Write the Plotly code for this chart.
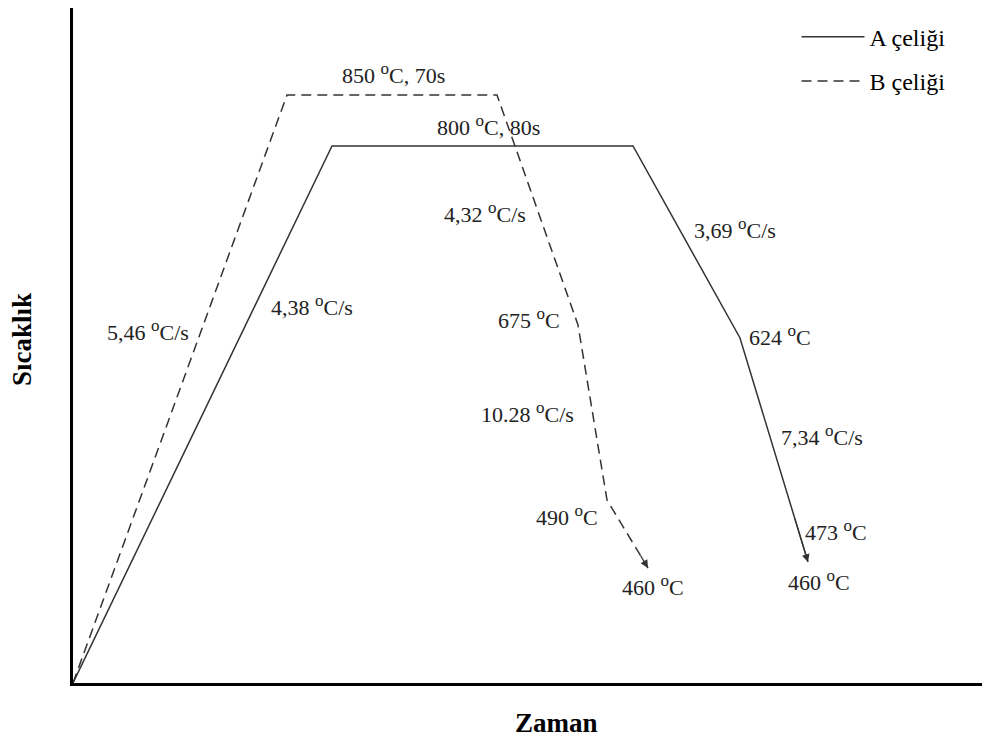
import plotly.graph_objects as go

# Schematic heat-treatment cycles (time vs temperature, schematic units)
A_time = [0, 259, 560, 667, 735]
A_temp = [0, 537, 537, 345, 121]
B_time = [0, 214, 424, 505, 534, 575]
B_temp = [0, 588, 588, 358, 183, 115]

DEG = '<sup><span style="font-size:17px">o</span></sup>'
label_texts = [
    f"850 {DEG}C, 70s", f"800 {DEG}C, 80s", f"4,32 {DEG}C/s",
    f"3,69 {DEG}C/s", f"5,46 {DEG}C/s", f"4,38 {DEG}C/s",
    f"675 {DEG}C", f"624 {DEG}C", f"10.28 {DEG}C/s",
    f"7,34 {DEG}C/s", f"490 {DEG}C", f"473 {DEG}C",
    f"460 {DEG}C", f"460 {DEG}C",
]
label_x = [320, 415, 412, 662, 75, 239, 456, 707, 454, 749, 494, 763, 580, 746]
label_y = [610, 558, 471, 455, 353, 378, 365, 348, 271, 248, 168, 153, 98, 103]

FONT = "Liberation Serif"
LINE_COLOR = "#333333"

fig = go.Figure()
fig.add_trace(go.Scatter(x=A_time, y=A_temp, mode="lines", name="A çeliği",
                         line=dict(color=LINE_COLOR, width=1.5), legendgroup="a"))
fig.add_trace(go.Scatter(x=B_time, y=B_temp, mode="lines", name="B çeliği",
                         line=dict(color=LINE_COLOR, width=1.5, dash="10px,6px"),
                         legendgroup="b"))

annotations = []
for t, x, y in zip(label_texts, label_x, label_y):
    annotations.append(dict(x=x, y=y, xref="x", yref="y", text=t, showarrow=False,
                            font=dict(family=FONT, size=22, color="#222")))

# arrowheads at the end of each curve
for xs, ys in ((A_time, A_temp), (B_time, B_temp)):
    f = 0.2
    tx = xs[-1] - f * (xs[-1] - xs[-2])
    ty = ys[-1] - f * (ys[-1] - ys[-2])
    annotations.append(dict(x=xs[-1], y=ys[-1], ax=tx, ay=ty, xref="x", yref="y",
                            axref="x", ayref="y", text="", showarrow=True,
                            arrowhead=2, arrowsize=1.3, arrowwidth=1.2,
                            arrowcolor=LINE_COLOR))

annotations.append(dict(x=0, y=0.508, xref="paper", yref="paper", xshift=-51,
                        xanchor="center", yanchor="middle",
                        text="<b>Sıcaklık</b>", textangle=-90, showarrow=False,
                        font=dict(family=FONT, size=27, color="#000")))
annotations.append(dict(x=0.527, y=0, xref="paper", yref="paper", yshift=-40,
                        xanchor="center", yanchor="middle",
                        text="<b>Zaman</b>", showarrow=False,
                        font=dict(family=FONT, size=27, color="#000")))

fig.update_layout(
    width=982, height=739,
    margin=dict(l=65, r=0, t=0, b=64),
    plot_bgcolor="white", paper_bgcolor="white",
    showlegend=True,
    legend=dict(x=0.789, y=0.99, xanchor="left", yanchor="top",
                font=dict(family=FONT, size=24, color="#000"),
                itemwidth=63, tracegroupgap=10, bgcolor="rgba(0,0,0,0)"),
    annotations=annotations,
)
fig.update_xaxes(range=[0, 917], showline=True, linewidth=3, linecolor="black",
                 showgrid=False, zeroline=False, showticklabels=False, ticks="")
fig.update_yaxes(range=[0, 675], showline=True, linewidth=3, linecolor="black",
                 showgrid=False, zeroline=False, showticklabels=False, ticks="")

fig.write_html("out.html")
